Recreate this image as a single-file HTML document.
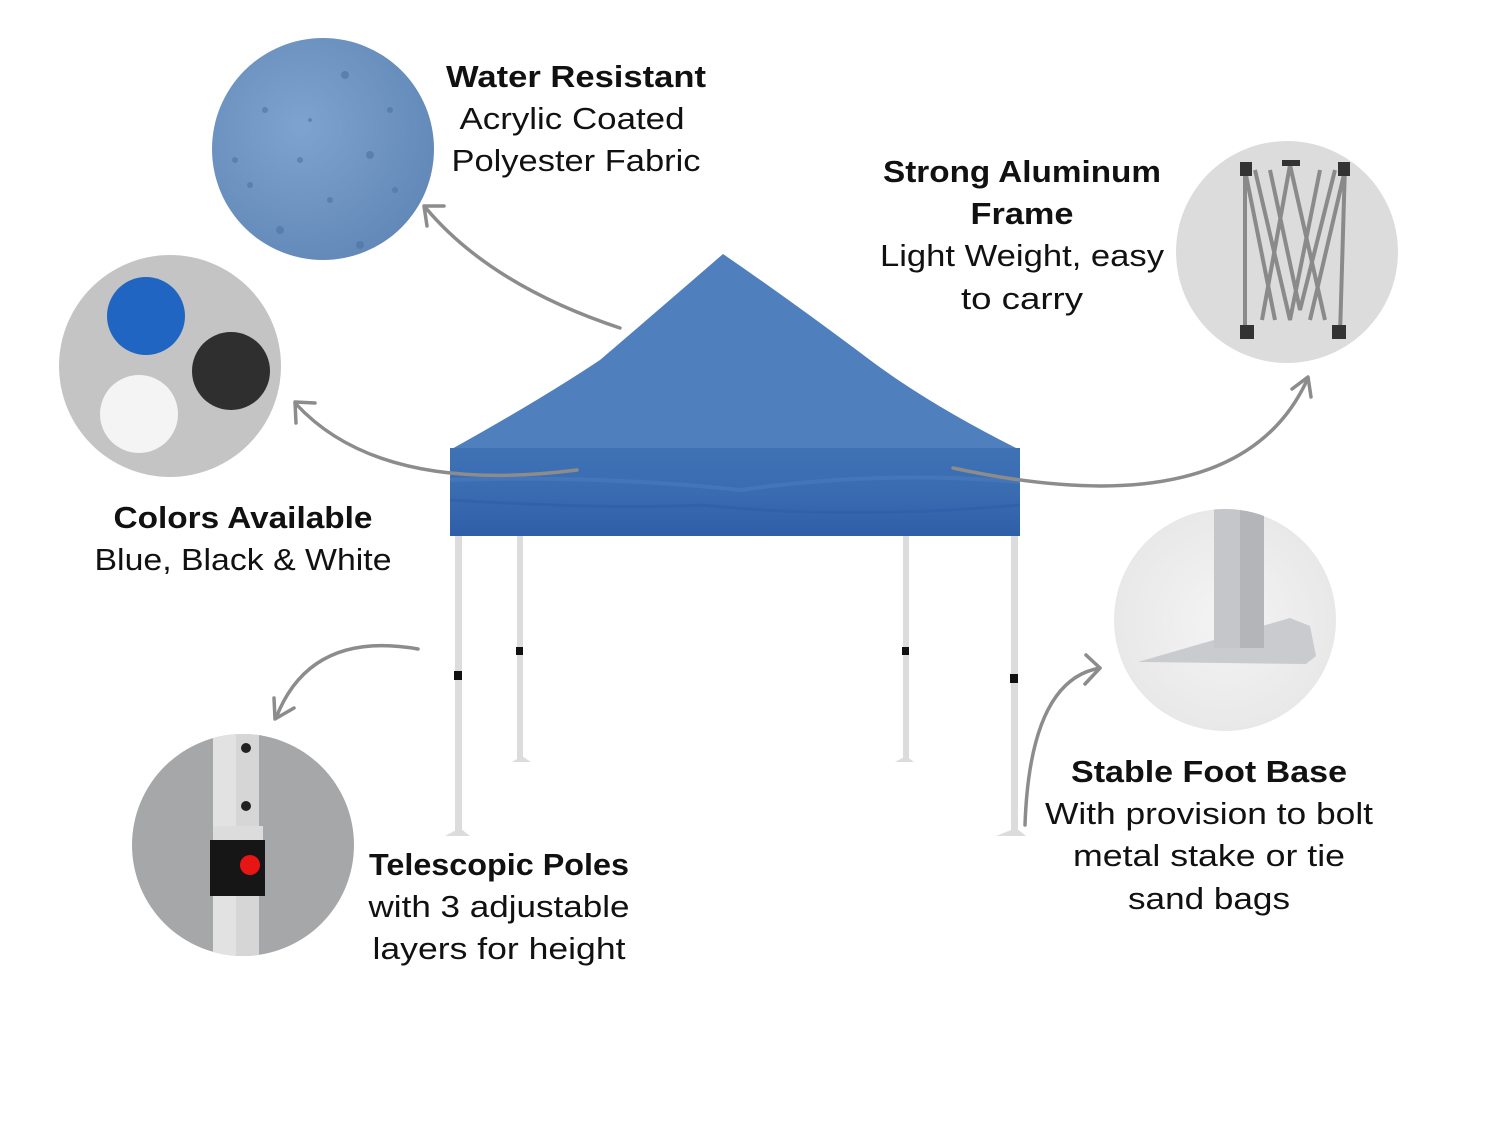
<!DOCTYPE html>
<html><head><meta charset="utf-8"><style>
html,body{margin:0;padding:0;background:#fff;width:1500px;height:1124px;overflow:hidden}
text{font-family:"Liberation Sans",sans-serif;fill:#111;font-size:31px}
.b{font-weight:bold}
</style></head><body>
<svg width="1500" height="1124" viewBox="0 0 1500 1124" xmlns="http://www.w3.org/2000/svg">
<defs>
<radialGradient id="wg" cx="0.4" cy="0.4" r="0.7"><stop offset="0" stop-color="#7fa3cf"/><stop offset="1" stop-color="#5f86b6"/></radialGradient>
<linearGradient id="val" x1="0" y1="0" x2="0" y2="1"><stop offset="0" stop-color="#3f71b5"/><stop offset="0.5" stop-color="#3a6cb2"/><stop offset="1" stop-color="#2f5ea8"/></linearGradient>
<radialGradient id="fg" cx="0.5" cy="0.5" r="0.6"><stop offset="0" stop-color="#f4f4f4"/><stop offset="1" stop-color="#e6e6e6"/></radialGradient>
<clipPath id="cpF"><circle cx="1225" cy="620" r="111"/></clipPath>
<clipPath id="cpP"><circle cx="243" cy="845" r="111"/></clipPath>
</defs>
<!-- water circle -->
<circle cx="323" cy="149" r="111" fill="url(#wg)"/>
<g fill="#4d73a3" opacity="0.6">
<circle cx="265" cy="110" r="3"/><circle cx="345" cy="75" r="4"/><circle cx="300" cy="160" r="3"/><circle cx="370" cy="155" r="4"/><circle cx="250" cy="185" r="3"/><circle cx="330" cy="200" r="3"/><circle cx="390" cy="110" r="3"/><circle cx="280" cy="230" r="4"/><circle cx="360" cy="245" r="4"/><circle cx="235" cy="160" r="3"/><circle cx="310" cy="120" r="2"/><circle cx="395" cy="190" r="3"/>
</g>
<!-- colors circle -->
<circle cx="170" cy="366" r="111" fill="#c4c4c4"/>
<circle cx="146" cy="316" r="39" fill="#2065c2"/>
<circle cx="231" cy="371" r="39" fill="#2f2f2f"/>
<circle cx="139" cy="414" r="39" fill="#f4f4f4"/>
<!-- frame circle -->
<circle cx="1287" cy="252" r="111" fill="#dcdcdc"/>
<g stroke="#8a8a8a" stroke-width="4" fill="none">
<path d="M1245 165 L1245 335 M1345 165 L1340 335 M1255 170 L1290 320 L1320 170 M1270 170 L1300 310 L1335 170 M1245 170 L1275 320 M1345 170 L1310 320 M1290 165 L1262 320 M1290 165 L1325 320"/>
</g>
<g fill="#333"><rect x="1240" y="162" width="12" height="14"/><rect x="1338" y="162" width="12" height="14"/><rect x="1282" y="160" width="18" height="6"/><rect x="1240" y="325" width="14" height="14"/><rect x="1332" y="325" width="14" height="14"/></g>
<!-- foot circle -->
<circle cx="1225" cy="620" r="111" fill="url(#fg)"/>
<g clip-path="url(#cpF)">
<path d="M1138 662 L1290 618 L1310 626 L1316 656 L1306 664 Z" fill="#c9cbce"/>
<rect x="1214" y="500" width="50" height="148" fill="#c4c6c9"/>
<rect x="1240" y="500" width="24" height="148" fill="#b3b5b8"/>
</g>
<!-- poles circle -->
<circle cx="243" cy="845" r="111" fill="#a6a7a9"/>
<g clip-path="url(#cpP)">
<rect x="213" y="734" width="46" height="222" fill="#e2e2e2"/>
<rect x="236" y="734" width="23" height="222" fill="#d6d6d6"/>
<rect x="213" y="826" width="50" height="14" fill="#dcdcdc"/>
<rect x="210" y="840" width="55" height="56" fill="#161616"/>
<circle cx="250" cy="865" r="10" fill="#e81515"/>
<circle cx="246" cy="748" r="5" fill="#222"/><circle cx="246" cy="806" r="5" fill="#222"/>
</g>
<!-- tent poles -->
<g fill="#dcdcdc">
<rect x="455" y="536" width="7" height="298"/><rect x="1011" y="536" width="7" height="298"/>
<rect x="517" y="536" width="6" height="224"/><rect x="903" y="536" width="6" height="224"/>
<path d="M445 836 L470 836 L460 828 Z"/><path d="M996 836 L1026 836 L1016 828 Z"/>
<path d="M512 762 L531 762 L522 756 Z"/><path d="M895 762 L914 762 L906 756 Z"/>
</g>
<g fill="#111"><rect x="454" y="671" width="8" height="9"/><rect x="1010" y="674" width="8" height="9"/><rect x="516" y="647" width="7" height="8"/><rect x="902" y="647" width="7" height="8"/></g>
<!-- canopy -->
<path d="M450 450 Q540 400 600 360 Q670 300 723 254 Q790 300 870 360 Q930 405 1020 450 L1020 470 L450 470 Z" fill="#4f7fbc"/>
<rect x="450" y="448" width="570" height="88" fill="url(#val)"/>
<path d="M450 480 Q600 475 740 490 Q880 470 1020 482" stroke="#4a7bbd" stroke-width="4" fill="none" opacity="0.6"/>
<path d="M450 500 Q620 510 700 505 Q850 520 1020 505" stroke="#2f5ea6" stroke-width="3" fill="none" opacity="0.6"/>
<!-- arrows -->
<g stroke="#8c8c8c" stroke-width="3.5" fill="none" stroke-linecap="round" stroke-linejoin="round">
<path d="M620 328 Q490 285 425 207"/><path d="M427 226 L424 206 L444 206"/>
<path d="M577 470 Q380 495 296 404"/><path d="M296 423 L295 402 L315 403"/>
<path d="M953 468 Q1240 530 1308 378"/><path d="M1292 389 L1308 377 L1311 397"/>
<path d="M418 649 Q310 630 276 718"/><path d="M274 698 L275 719 L294 708"/>
<path d="M1025 825 Q1030 680 1100 668"/><path d="M1086 655 L1100 668 L1085 684"/>
</g>
<!-- text -->
<g text-anchor="middle">
<text class="b" x="576" y="87" textLength="260" lengthAdjust="spacingAndGlyphs">Water Resistant</text>
<text x="572" y="129" textLength="225" lengthAdjust="spacingAndGlyphs">Acrylic Coated</text>
<text x="576" y="171" textLength="249" lengthAdjust="spacingAndGlyphs">Polyester Fabric</text>
<text class="b" x="1022" y="182" textLength="278" lengthAdjust="spacingAndGlyphs">Strong Aluminum</text>
<text class="b" x="1022" y="224" textLength="103" lengthAdjust="spacingAndGlyphs">Frame</text>
<text x="1022" y="266" textLength="284" lengthAdjust="spacingAndGlyphs">Light Weight, easy</text>
<text x="1022" y="309" textLength="122" lengthAdjust="spacingAndGlyphs">to carry</text>
<text class="b" x="243" y="528" textLength="259" lengthAdjust="spacingAndGlyphs">Colors Available</text>
<text x="243" y="570" textLength="297" lengthAdjust="spacingAndGlyphs">Blue, Black &amp; White</text>
<text class="b" x="499" y="875" textLength="260" lengthAdjust="spacingAndGlyphs">Telescopic Poles</text>
<text x="499" y="917" textLength="261" lengthAdjust="spacingAndGlyphs">with 3 adjustable</text>
<text x="499" y="959" textLength="253" lengthAdjust="spacingAndGlyphs">layers for height</text>
<text class="b" x="1209" y="782" textLength="276" lengthAdjust="spacingAndGlyphs">Stable Foot Base</text>
<text x="1209" y="824" textLength="328" lengthAdjust="spacingAndGlyphs">With provision to bolt</text>
<text x="1209" y="866" textLength="272" lengthAdjust="spacingAndGlyphs">metal stake or tie</text>
<text x="1209" y="909" textLength="162" lengthAdjust="spacingAndGlyphs">sand bags</text>
</g>
</svg>
</body></html>
